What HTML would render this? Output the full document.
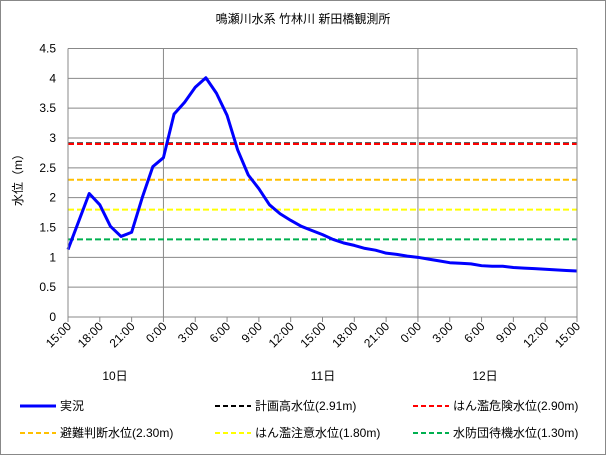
<!DOCTYPE html>
<html><head><meta charset="utf-8"><style>
body{margin:0;background:#fff;font-family:"Liberation Sans","Noto Sans CJK JP",sans-serif;}
svg text{font-family:"Liberation Sans","Noto Sans CJK JP",sans-serif;font-size:12px;fill:#000}
</style></head><body>
<svg id="c" width="606" height="455" xmlns="http://www.w3.org/2000/svg">
<rect x="0.5" y="0.5" width="605" height="454" fill="#fff" stroke="#888"/>
<text x="303" y="23" text-anchor="middle" font-size="13">鳴瀬川水系 竹林川 新田橋観測所</text>
<text transform="translate(22,177) rotate(-90)" text-anchor="middle">水位（m）</text>
<g id="grid"></g><g id="marks"></g><g id="axes"></g>
<text x="115" y="380" text-anchor="middle">10日</text>
<text x="323" y="380" text-anchor="middle">11日</text>
<text x="485" y="380" text-anchor="middle">12日</text>
<g id="legend"></g>
</svg>
<script>
const hours=[0,1,2,3,4,5,6,7,8,9,10,11,12,13,14,15,16,17,18,19,20,21,22,23,24,25,26,27,28,29,30,31,32,33,34,35,36,37,38,39,40,41,42,43,44,45,46,47,48];
const levels=[1.13,1.6,2.07,1.88,1.52,1.35,1.42,2.0,2.52,2.67,3.4,3.6,3.85,4.01,3.75,3.38,2.8,2.38,2.15,1.88,1.73,1.62,1.52,1.45,1.38,1.3,1.24,1.2,1.15,1.12,1.07,1.05,1.02,1.0,0.97,0.94,0.91,0.9,0.89,0.86,0.85,0.85,0.83,0.82,0.81,0.8,0.79,0.78,0.77];
const thresholdNames=["計画高水位(2.91m)","はん濫危険水位(2.90m)","避難判断水位(2.30m)","はん濫注意水位(1.80m)","水防団待機水位(1.30m)"];
const thresholdValues=[2.91,2.90,2.30,1.80,1.30];
const thresholdColors=["#000","#f00","#ffc000","#ffff00","#00b050"];
const yTicks=[0,0.5,1,1.5,2,2.5,3,3.5,4,4.5];
const xTickLabels=["15:00","18:00","21:00","0:00","3:00","6:00","9:00","12:00","15:00","18:00","21:00","0:00","3:00","6:00","9:00","12:00","15:00"];
const NS="http://www.w3.org/2000/svg";
const X0=68,X1=577,Y0=317,YT=48.5;
const xs=h=>X0+(X1-X0)*h/48;
const ys=v=>Y0-(Y0-YT)*v/4.5;
function mk(p,t,a){const e=document.createElementNS(NS,t);for(const k in a)e.setAttribute(k,a[k]);document.getElementById(p)?document.getElementById(p).appendChild(e):p.appendChild(e);return e;}
yTicks.forEach(v=>{
 const l=mk("grid","line",{x1:X0,x2:X1,y1:ys(v),y2:ys(v),stroke:"#888","stroke-width":1});
 
 
 const t=mk("axes","text",{x:56,y:ys(v)+4,"text-anchor":"end"});t.textContent=String(v);
 
 
});
[9,33].forEach(h=>{const l=mk("grid","line",{x1:xs(h),x2:xs(h),y1:YT,y2:Y0,stroke:"#888"});
 
 });
mk("axes","line",{x1:X0,x2:X0,y1:YT,y2:Y0,stroke:"#888"});
mk("axes","line",{x1:X1,x2:X1,y1:YT,y2:Y0,stroke:"#888"});
xTickLabels.forEach((s,i)=>{
 const x=xs(i*3);
 mk("axes","line",{x1:x,x2:x,y1:Y0,y2:Y0+5,stroke:"#888"});
 const t=mk("axes","text",{transform:`translate(${x+4},${Y0+10}) rotate(-45)`,"text-anchor":"end"});t.textContent=s;
 
 
});
thresholdValues.forEach((v,i)=>{
 const l=mk("marks","line",{x1:X0,x2:X1,y1:ys(v),y2:ys(v),stroke:thresholdColors[i],"stroke-width":2,"stroke-dasharray":"6,3"});
 
 
});
const p=mk("marks","polyline",{points:hours.map((h,i)=>xs(h)+","+ys(levels[i])).join(" "),fill:"none",stroke:"#0000ff","stroke-width":3,"stroke-linejoin":"round"});


const legItems=[["実況","#0000ff",false]].concat(thresholdNames.map((n,i)=>[n,thresholdColors[i],true]));
const legPos=[[20,406],[215,406],[413,406],[20,433],[215,433],[413,433]];
legItems.forEach((it,i)=>{
 const [x,y]=legPos[i];
 const l=mk("legend","line",{x1:x,x2:x+36,y1:y,y2:y,stroke:it[1],"stroke-width":it[2]?2:3,"stroke-dasharray":it[2]?"5,3":"none"});
 
 
 const t=mk("legend","text",{x:x+40,y:y+4});t.textContent=it[0];
 
 
});
</script>
</body></html>
